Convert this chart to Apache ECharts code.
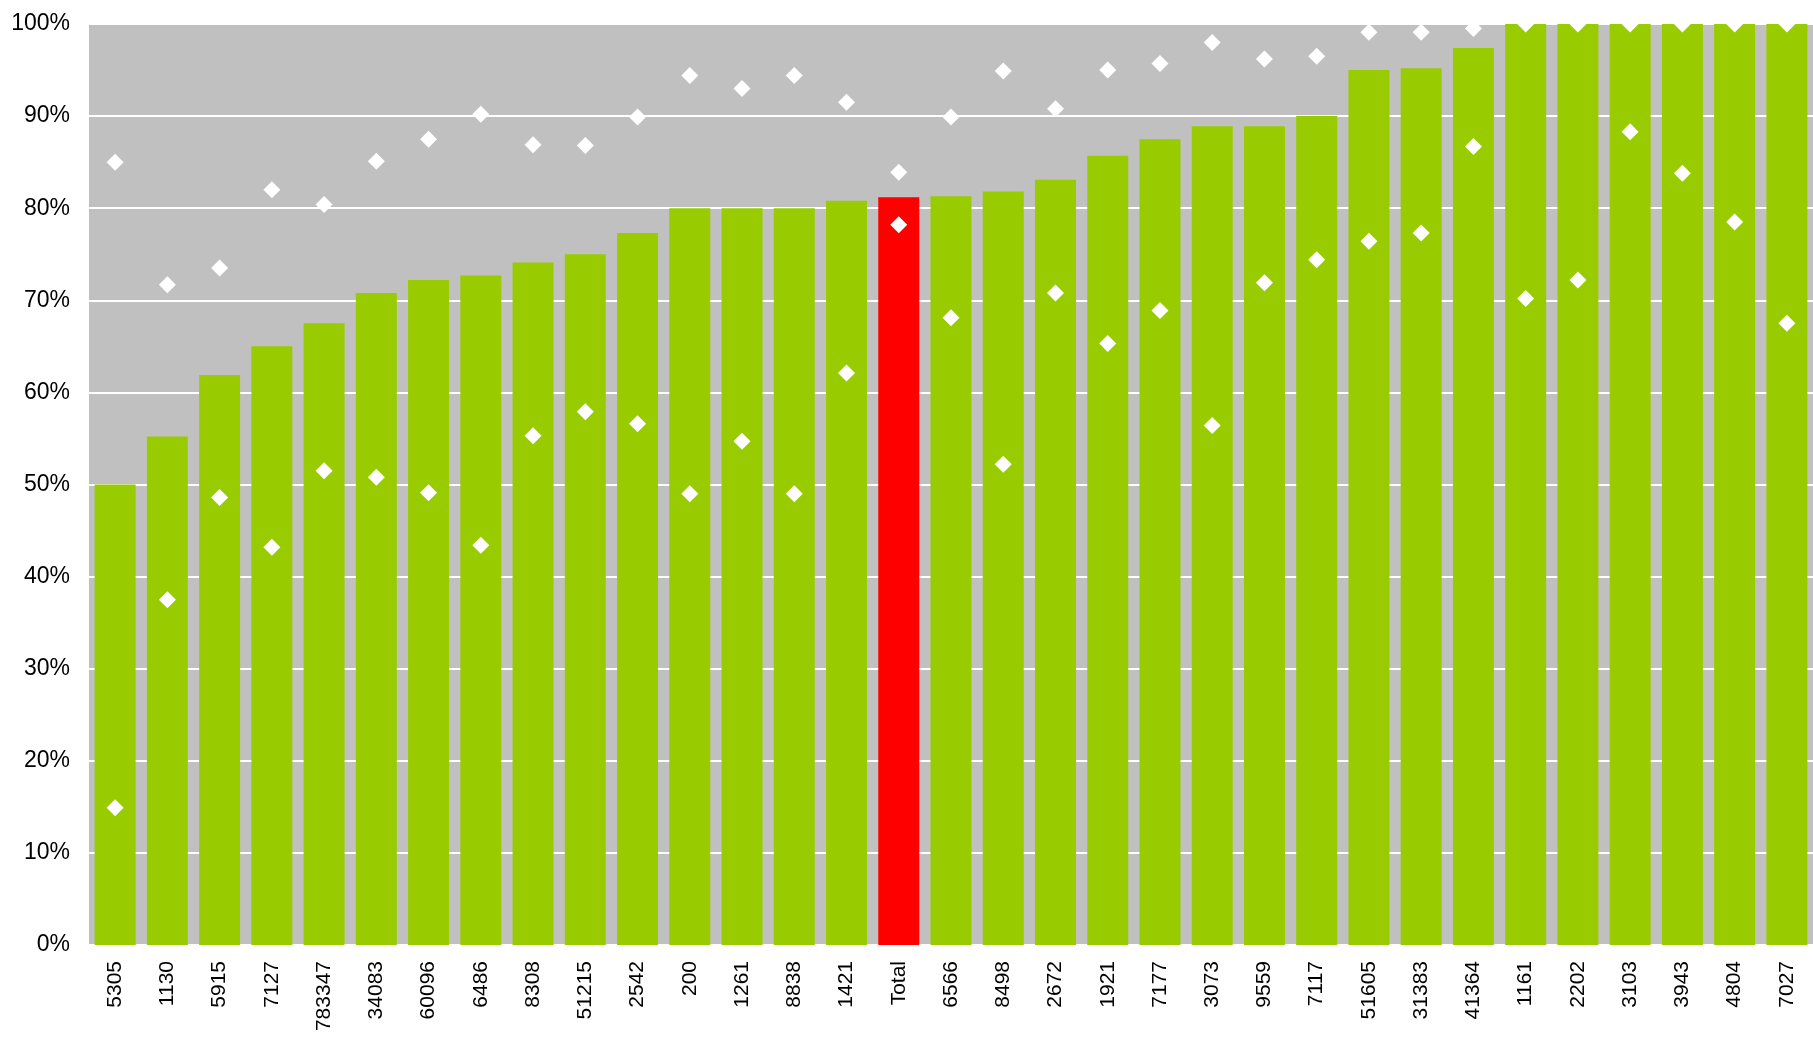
<!DOCTYPE html>
<html>
<head>
<meta charset="utf-8">
<title>chart</title>
<script src="https://cdn.jsdelivr.net/npm/echarts@6/dist/echarts.min.js"></script>
<style>
  html, body { margin: 0; padding: 0; background: #fff; }
  #main { width: 1813px; height: 1037px; }
</style>
</head>
<body>
<div id="main"></div>
<script>
// categories along the x axis
var categories = ['5305', '1130', '5915', '7127', '783347', '34083', '60096', '6486', '8308', '51215',
  '2542', '200', '1261', '8838', '1421', 'Total', '6566', '8498', '2672', '1921', '7177', '3073',
  '9559', '7117', '51605', '31383', '41364', '1161', '2202', '3103', '3943', '4804', '7027']

// bar values (%)
var barValues = [50.0, 55.2, 61.9, 65.0, 67.5, 70.8, 72.2, 72.7, 74.1, 75.0,
  77.3, 80.0, 80.0, 80.0, 80.8, 81.2, 81.3, 81.8, 83.1, 85.7, 87.5, 88.9,
  88.9, 90.0, 95.0, 95.2, 97.4, 100, 100, 100, 100, 100, 100]

// upper diamonds (%)
var upperValues = [85.0, 71.7, 73.5, 82.0, 80.4, 85.1, 87.5, 90.2, 86.9, 86.8,
  89.9, 94.4, 93.0, 94.4, 91.5, 83.9, 89.9, 94.9, 90.8, 95.0, 95.7, 98.0,
  96.2, 96.5, 99.1, 99.1, 99.5, 100, 100, 100, 100, 100, 100]

// lower diamonds (%)
var lowerValues = [14.9, 37.5, 48.6, 43.2, 51.5, 50.8, 49.1, 43.4, 55.3, 57.9,
  56.6, 49.0, 54.7, 49.0, 62.1, 78.2, 68.1, 52.2, 70.8, 65.3, 68.9, 56.4,
  71.9, 74.4, 76.4, 77.3, 86.7, 70.2, 72.2, 88.3, 83.8, 78.5, 67.5]

// y axis ticks
var yMin = 0
var yMax = 100
var yStep = 10

var highlightCategory = 'Total'

var font = 'Liberation Sans, Arial, sans-serif'

// the Total bar is red, the rest green
var barData = barValues.map(function (v, i) {
  return {
    value: v,
    itemStyle: { color: categories[i] === highlightCategory ? '#FF0000' : '#99CC00' }
  }
})

// white diamond markers, same look for both series
function diamondSeries(values) {
  return {
    type: 'scatter',
    data: values,
    symbol: 'diamond',
    symbolSize: 17,
    clip: false,
    itemStyle: { color: '#FFFFFF', opacity: 1 }
  }
}

var myChart = echarts.init(document.getElementById('main'))
myChart.setOption({
  animation: false,
  grid: {
    show: true,
    left: 89,
    right: 0,
    top: 24,
    bottom: 92,
    backgroundColor: '#C0C0C0',
    borderWidth: 0
  },
  xAxis: {
    type: 'category',
    data: categories,
    axisLine: { show: false },
    axisTick: { show: false },
    axisLabel: {
      interval: 0,
      rotate: 90,
      margin: 16,
      color: '#000',
      fontSize: 21,
      fontFamily: font
    }
  },
  yAxis: {
    type: 'value',
    min: yMin,
    max: yMax,
    interval: yStep,
    axisLine: { show: false },
    axisTick: { show: false },
    axisLabel: {
      formatter: '{value}%',
      margin: 19,
      color: '#000',
      fontSize: 23,
      fontFamily: font
    },
    splitLine: {
      lineStyle: { color: '#FFFFFF', width: 2 }
    }
  },
  series: [
    {
      type: 'bar',
      data: barData,
      barCategoryGap: '21.5%'
    },
    diamondSeries(upperValues),
    diamondSeries(lowerValues)
  ]
})
</script>
</body>
</html>
